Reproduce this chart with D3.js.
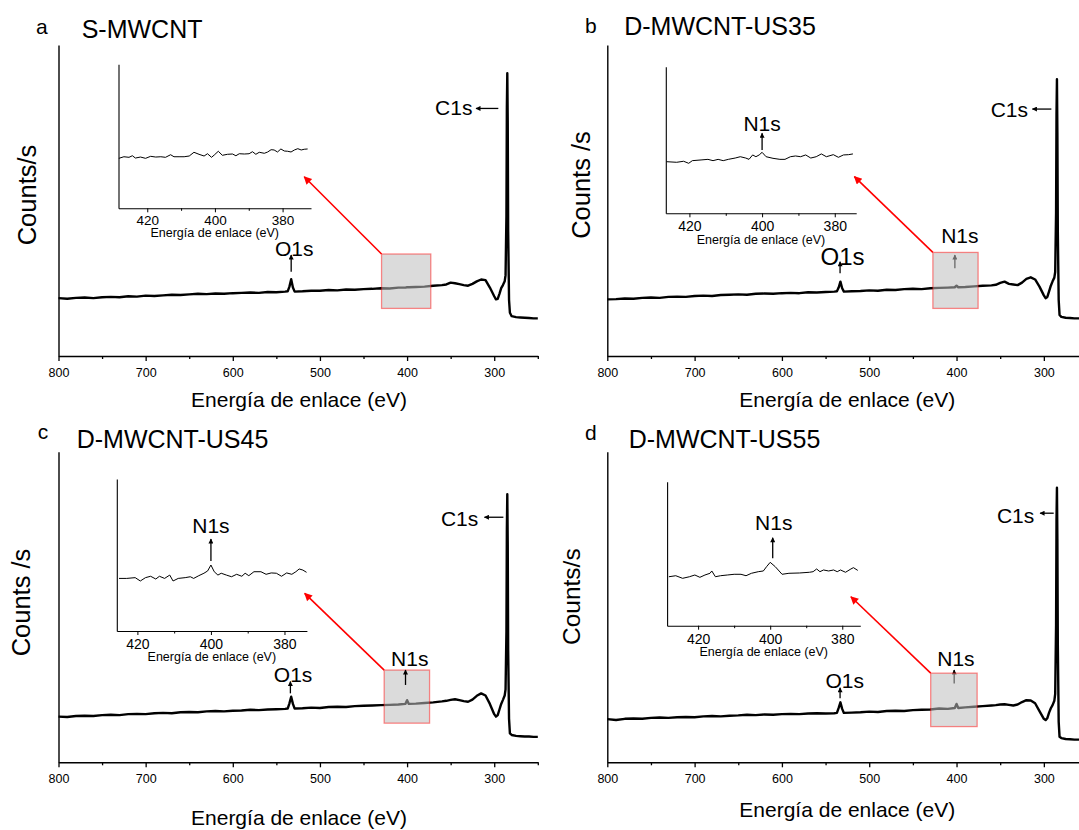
<!DOCTYPE html>
<html><head><meta charset="utf-8">
<script src="https://cdn.jsdelivr.net/npm/d3@7"></script>
<style>
body{margin:0;background:#fff}
svg{display:block}
text{font-family:Arial,"Liberation Sans",sans-serif;fill:#000}
</style>
</head><body>
<svg id="chart" width="1079" height="830"></svg>
<script>
// ---------------- DATA ----------------
const energy = [800,790,780,770,760,750,740,730,720,710,
 700,690,680,670,660,650,640,630,620,610,
 600,590,580,570,560,550,540,
 537,535,533,531,529,
 520,510,500,490,480,470,460,450,440,430,
 420,410,402,400,398,390,380,370,360,
 355,350,345,340,335,330,325,320,315,310,
 305,300,298,296,294,292,290,288,287,286,
 285.5,285,284.5,284,283,282,280,
 275,270,265,260,255,250];

const countsA = [18.6,18.4,18.7,18.8,18.6,18.9,19.0,18.9,19.2,19.1,
 19.4,19.3,19.5,19.7,19.6,19.8,20.0,19.9,20.1,20.0,
 20.2,20.3,20.4,20.3,20.6,20.5,20.7,
 20.8,22.3,24.7,22.0,20.7,
 20.8,21.0,21.0,21.2,21.1,21.4,21.3,21.5,21.6,21.8,
 21.7,22.0,22.0,22.1,22.1,22.2,22.3,22.6,22.8,
 23.0,23.6,23.4,23.1,22.8,22.6,23.2,24.0,24.6,24.4,
 22.0,19.2,18.2,18.4,20.0,21.8,22.8,24.0,26.0,45,
 80,90.9,75,40,18,13.9,12.8,
 12.5,12.4,12.3,12.2,12.1,12.1];

const countsB = [18.2,18.3,18.5,18.4,18.7,18.8,18.7,19.0,19.1,19.0,
 19.3,19.4,19.3,19.6,19.7,19.8,19.7,20.0,20.1,20.0,
 20.2,20.3,20.2,20.5,20.4,20.6,20.7,
 20.8,22.0,23.9,21.8,20.7,
 20.8,20.9,21.1,21.0,21.3,21.2,21.5,21.6,21.5,21.8,
 21.9,22.0,22.1,22.6,22.1,22.2,22.4,22.6,22.7,
 22.9,23.5,23.9,23.2,23.0,22.8,23.6,24.8,25.3,24.6,
 22.3,19.5,18.6,19.0,20.8,22.6,24.0,25.2,27.0,46,
 78,89.0,72,40,18,13.2,12.6,
 12.3,12.2,12.1,12.1,12.0,12.0];

const countsC = [14.7,14.6,14.9,15.0,14.9,15.2,15.3,15.2,15.5,15.6,
 15.5,15.8,15.9,15.8,16.1,16.2,16.1,16.4,16.5,16.4,
 16.6,16.7,16.9,16.8,17.0,17.1,17.2,
 17.3,19.0,21.1,18.8,17.3,
 17.4,17.6,17.5,17.8,17.9,17.8,18.1,18.2,18.3,18.4,
 18.5,18.6,18.8,20.0,18.8,18.9,19.1,19.3,19.6,
 19.8,20.1,20.3,20.0,19.7,19.5,20.2,21.4,22.2,21.5,
 18.8,15.5,14.7,15.2,17.0,18.8,20.1,21.5,23.5,42,
 75,86.3,70,36,14,9.3,8.8,
 8.5,8.4,8.3,8.3,8.2,8.2];

const countsD = [13.9,13.6,14.0,14.1,14.0,14.3,14.4,14.3,14.5,14.6,
 14.5,14.8,14.9,14.8,15.0,15.1,15.3,15.2,15.4,15.3,
 15.5,15.6,15.5,15.7,15.8,15.7,15.8,
 15.9,17.5,19.3,17.2,15.9,
 16.0,16.1,16.3,16.2,16.5,16.6,16.5,16.8,16.9,17.0,
 17.3,17.2,17.5,18.8,17.5,17.7,17.9,18.1,18.3,
 18.4,18.6,18.7,18.5,18.3,18.6,19.4,20.0,19.9,19.0,
 16.5,14.0,13.6,14.2,16.0,17.4,18.4,19.8,22.0,44,
 78,88.4,72,38,13,8.2,7.8,
 7.5,7.4,7.3,7.3,7.2,7.2];

const insetEnergyA = [428.4,426.9,425.4,424.4,423.5,422.0,420.5,419.0,417.5,416.0,414.6,413.1,412.1,410.6,409.1,407.6,406.2,404.7,403.2,402.2,401.0,400.2,399.0,397.8,396.3,394.8,393.8,392.8,391.3,389.9,388.9,387.9,386.9,385.4,384.4,383.4,382.5,381.5,380.5,379.5,378.5,377.5,376.5,375.5,374.5,373.6,372.6];
const insetCountsA = [34.7,35.8,35.4,36.5,34.9,35.6,34.7,36.1,35.6,35.8,35.4,37.2,35.8,35.8,35.8,36.3,38.9,37.5,36.3,37.9,35.4,37.0,39.6,36.8,37.5,37.7,36.5,37.9,37.7,37.9,39.3,37.5,38.9,38.2,39.1,40.7,40.5,39.1,41.2,39.8,39.6,39.1,40.5,41.4,40.5,41.0,41.2];

const insetEnergyB = [426.3,423.5,421.6,420.2,419.2,416.8,414.9,413.5,412.1,410.7,409.3,407.4,406.0,404.5,403.6,402.6,401.7,400.8,400.0,398.9,397.0,395.1,393.7,392.2,390.8,389.4,388.0,386.6,385.1,383.7,382.3,380.4,379.0,377.6,376.2,375.0];
const insetCountsB = [35.2,34.8,35.5,34.1,35.9,36.4,36.8,35.9,36.8,35.9,36.8,37.7,38.6,37.7,36.8,39.8,38.6,39.8,41.6,38.6,37.5,36.8,36.8,38.6,39.1,38.6,39.8,37.7,38.6,40.5,38.6,40.0,38.2,39.8,40.0,40.5];

const insetEnergyC = [425.0,422.9,420.6,419.2,417.8,416.4,415.0,414.0,412.6,411.2,410.3,408.9,407.0,405.6,404.7,403.3,401.9,400.9,400.0,399.1,398.1,397.2,395.8,394.4,393.0,391.6,390.7,389.7,388.3,386.4,385.0,383.6,382.2,380.8,379.4,378.0,376.9,376.0,375.0,374.0];
const insetCountsC = [34.6,34.6,35.1,32.9,35.1,36.0,34.2,36.0,34.6,36.8,32.9,34.6,35.1,35.7,34.6,36.4,38.0,39.5,43.4,39.0,36.8,38.0,36.8,35.7,37.3,36.0,38.0,36.4,39.0,39.0,37.3,38.2,38.0,36.0,38.2,37.3,39.0,40.8,40.1,38.6];

const insetEnergyD = [428.1,426.2,424.3,422.4,420.9,419.5,418.1,416.7,416.2,415.2,413.8,411.9,410.0,408.1,406.7,405.2,403.3,401.9,401.0,400.0,398.6,396.7,394.8,391.9,389.1,388.1,387.1,386.2,385.2,383.8,382.4,381.4,380.5,379.1,377.6,376.9,375.7];
const insetCountsD = [34.0,34.7,32.9,34.0,35.2,33.6,35.2,36.4,38.0,34.0,34.7,35.2,35.7,35.7,34.7,36.4,37.5,38.0,41.0,44.0,41.0,35.7,36.4,36.6,37.1,37.5,39.4,37.5,38.7,38.0,38.7,37.5,38.7,37.1,39.4,40.3,38.4];

const mainTicks = [800,700,600,500,400,300];
const mainMinorTicks = [750,650,550,450,350,250];
const insetTicks = [420,400,380];
const insetMinorTicks = [410,390];
const panelLetters = ["a","b","c","d"];
const sampleNames = ["S-MWCNT","D-MWCNT-US35","D-MWCNT-US45","D-MWCNT-US55"];
const yTitles = ["Counts/s","Counts /s","Counts /s","Counts/s"];
const xTitle = "Energía de enlace (eV)";
const peakNames = {o:"O1s", n:"N1s", c:"C1s"};

const mainSeries = [countsA,countsB,countsC,countsD];
const insetSeries = [[insetEnergyA,insetCountsA],[insetEnergyB,insetCountsB],[insetEnergyC,insetCountsC],[insetEnergyD,insetCountsD]];

// ---------------- LAYOUT ----------------
const layout = [
 { main:{l:58.5,r:537.8,t:45,b:356}, inset:{l:118.5,r:311,t:64.3,b:208.3,dom:[428.5,371.6],font:13.5,pad:3,titleOff:29},
   letter:[36,34], title:[81.7,38.3], yT:[36.1,195,25.5], xT:[299,407.3],
   box:[429.3,372.8,15.3,32.8], red:[373.6,21.9],
   o:{lx:529.5,ly:32.2,fs:21,ax:533,a0:27.1,a1:32.5},
   c:{lx:325,ly:77.5,ax0:295.3,ax1:320.9,ay:79.6},
   n:null, ni:null },
 { main:{l:607.3,r:1087.5,t:45,b:356}, inset:{l:665.8,r:856.2,t:66.7,b:213.3,dom:[426.5,374.1],font:14,pad:4,titleOff:30.7},
   letter:[585,33.3], title:[624.2,35], yT:[589.8,185,25.5], xT:[847.3,407.3],
   box:[427.1,375.3,15.3,33.3], red:[374.6,25.0],
   o:{lx:530.6,ly:29.3,fs:24,ax:533.4,a0:26.6,a1:30.3},
   c:{lx:318.1,ly:76.9,ax0:291.4,ax1:313.1,ay:79.4},
   n:{lx:396.2,ly:36.2,ax:401.9,a0:28.2,a1:32.5,under:true},
   ni:{lx:400,ly:56.3,ax:400,a0:43.2,a1:54.6} },
 { main:{l:58.5,r:537.8,t:451.7,b:762.3}, inset:{l:116.8,r:306.9,t:479,b:631,dom:[425.6,373.9],font:14,pad:4,titleOff:30},
   letter:[37.7,439], title:[76.7,448.3], yT:[30.2,602.5,25.5], xT:[299,825],
   box:[426.3,374.2,12.6,29.7], red:[374.5,24.8],
   o:{lx:530.8,ly:25.8,fs:21,ax:533.9,a0:22.2,a1:26.0},
   c:{lx:318.3,ly:76.1,ax0:289.5,ax1:311.2,ay:78.9},
   n:{lx:396.9,ly:31.1,ax:401.8,a0:24.9,a1:29.7,under:false},
   ni:{lx:400,ly:64.3,ax:400,a0:46.1,a1:60.5} },
 { main:{l:607.3,r:1087.5,t:451.7,b:762.3}, inset:{l:667.1,r:860.3,t:481.7,b:625.7,dom:[428.6,375],font:14,pad:4,titleOff:29.8},
   letter:[585,440], title:[628.7,448.3], yT:[579.5,596.7,24.5], xT:[847.3,816.7],
   box:[429.6,376.4,11.5,28.7], red:[377.6,20.1],
   o:{lx:528,ly:23.8,fs:21,ax:533.4,a0:20.6,a1:24.0},
   c:{lx:311.0,ly:76.9,ax0:288.7,ax1:304.3,ay:80.2},
   n:{lx:400.7,ly:31.1,ax:402.7,a0:25.4,a1:29.7,under:true},
   ni:{lx:399,ly:66.5,ax:399.3,a0:46.8,a1:61.1} }
];

// ---------------- DRAW ----------------
const svg = d3.select("#chart");
const defs = svg.append("defs");
function marker(id, color, w, h){
  defs.append("marker").attr("id",id).attr("viewBox","0 0 10 10").attr("refX",9).attr("refY",5)
    .attr("markerWidth",w).attr("markerHeight",h).attr("markerUnits","userSpaceOnUse").attr("orient","auto")
    .append("path").attr("d","M0,0 L10,5 L0,10 Z").attr("fill",color);
}
marker("arrK","#000",6,5);
marker("arrR","#ff0000",10,8);

layout.forEach((L,i)=>{
  const g = svg.append("g");
  const x = d3.scaleLinear().domain([800,250]).range([L.main.l,L.main.r]);
  const y = d3.scaleLinear().domain([0,100]).range([L.main.b,L.main.t]);

  // main axes
  const xa = g.append("g").attr("transform",`translate(0,${L.main.b})`)
    .call(d3.axisBottom(x).tickValues(mainTicks).tickSize(5).tickPadding(7).tickSizeOuter(0).tickFormat(d3.format("d")));
  xa.select(".domain").attr("stroke-width",1.4);
  xa.selectAll(".tick line").attr("stroke-width",1.3);
  xa.selectAll("text").attr("font-size",12.5).attr("font-family",'Arial,"Liberation Sans",sans-serif');
  const xm = g.append("g").attr("transform",`translate(0,${L.main.b})`)
    .call(d3.axisBottom(x).tickValues(mainMinorTicks).tickSize(3).tickFormat(""));
  xm.select(".domain").remove();
  xm.selectAll(".tick line").attr("stroke-width",1.3);
  const ya = g.append("g").attr("transform",`translate(${L.main.l},0)`)
    .call(d3.axisLeft(y).tickValues([]).tickSizeOuter(0));
  ya.select(".domain").attr("stroke-width",1.4);

  // main spectrum
  const line = d3.line().x((d,k)=>x(energy[k])).y(d=>y(d));
  g.append("path").datum(mainSeries[i]).attr("d",line)
    .attr("fill","none").attr("stroke","#000").attr("stroke-width",2.4).attr("stroke-linejoin","round");

  const arrowV = (ax,a0,a1)=> g.append("line").attr("x1",x(ax)).attr("x2",x(ax))
      .attr("y1",y(a0)).attr("y2",y(a1)).attr("stroke","#000").attr("stroke-width",1.3).attr("marker-end","url(#arrK)");

  if(L.n && L.n.under) arrowV(L.n.ax,L.n.a0,L.n.a1);

  // zoom box
  g.append("rect").attr("x",x(L.box[0])).attr("y",y(L.box[3]))
    .attr("width",x(L.box[1])-x(L.box[0])).attr("height",y(L.box[2])-y(L.box[3]))
    .attr("fill","rgb(190,190,190)").attr("fill-opacity",0.55)
    .attr("stroke","rgba(255,0,0,0.45)").attr("stroke-width",1.3);

  if(L.n && !L.n.under) arrowV(L.n.ax,L.n.a0,L.n.a1);
  if(L.n){
    g.append("text").attr("x",x(L.n.lx)).attr("y",y(L.n.ly)).attr("text-anchor","middle").attr("font-size",21).text(peakNames.n);
  }
  // O1s
  arrowV(L.o.ax,L.o.a0,L.o.a1);
  g.append("text").attr("x",x(L.o.lx)).attr("y",y(L.o.ly)).attr("text-anchor","middle").attr("font-size",L.o.fs).text(peakNames.o);
  // C1s
  g.append("line").attr("x1",x(L.c.ax0)).attr("x2",x(L.c.ax1)).attr("y1",y(L.c.ay)).attr("y2",y(L.c.ay))
    .attr("stroke","#000").attr("stroke-width",1.3).attr("marker-end","url(#arrK)");
  g.append("text").attr("x",x(L.c.lx)).attr("y",y(L.c.ly)).attr("text-anchor","end").attr("font-size",21).text(peakNames.c);

  // inset
  const I = L.inset;
  const xi = d3.scaleLinear().domain(I.dom).range([I.l,I.r]);
  const yi = d3.scaleLinear().domain([0,100]).range([I.b,I.t]);
  const xia = g.append("g").attr("transform",`translate(0,${I.b})`)
    .call(d3.axisBottom(xi).tickValues(insetTicks).tickSize(4).tickPadding(I.pad).tickSizeOuter(0).tickFormat(d3.format("d")));
  xia.selectAll("text").attr("font-size",I.font).attr("font-family",'Arial,"Liberation Sans",sans-serif');
  xia.select(".domain").attr("stroke-width",1.1);
  const xim = g.append("g").attr("transform",`translate(0,${I.b})`)
    .call(d3.axisBottom(xi).tickValues(insetMinorTicks).tickSize(2.5).tickFormat(""));
  xim.select(".domain").remove();
  const yia = g.append("g").attr("transform",`translate(${I.l},0)`)
    .call(d3.axisLeft(yi).tickValues([]).tickSizeOuter(0));
  yia.select(".domain").attr("stroke-width",1.1);
  g.append("text").attr("x",(I.l+I.r)/2).attr("y",I.b+I.titleOff).attr("text-anchor","middle").attr("font-size",12.5).text(xTitle);

  const [ie, ic] = insetSeries[i];
  const iline = d3.line().x((d,k)=>xi(ie[k])).y(d=>yi(d));
  g.append("path").datum(ic).attr("d",iline).attr("fill","none").attr("stroke","#000").attr("stroke-width",1);

  if(L.ni){
    g.append("line").attr("x1",xi(L.ni.ax)).attr("x2",xi(L.ni.ax)).attr("y1",yi(L.ni.a0)).attr("y2",yi(L.ni.a1))
      .attr("stroke","#000").attr("stroke-width",1.3).attr("marker-end","url(#arrK)");
    g.append("text").attr("x",xi(L.ni.lx)).attr("y",yi(L.ni.ly)).attr("text-anchor","middle").attr("font-size",21).text(peakNames.n);
  }

  // red arrow from box corner to inset
  g.append("line").attr("x1",x(L.box[0])).attr("y1",y(L.box[3])).attr("x2",xi(L.red[0])).attr("y2",yi(L.red[1]))
    .attr("stroke","#ff0000").attr("stroke-width",1.6).attr("marker-end","url(#arrR)");

  // texts
  g.append("text").attr("x",L.letter[0]).attr("y",L.letter[1]).attr("font-size",21).text(panelLetters[i]);
  g.append("text").attr("x",L.title[0]).attr("y",L.title[1]).attr("font-size",25).text(sampleNames[i]);
  g.append("text").attr("transform",`translate(${L.yT[0]},${L.yT[1]}) rotate(-90)`).attr("text-anchor","middle")
    .attr("font-size",L.yT[2]).text(yTitles[i]);
  g.append("text").attr("x",L.xT[0]).attr("y",L.xT[1]).attr("text-anchor","middle").attr("font-size",21).text(xTitle);
});
</script>
</body></html>
